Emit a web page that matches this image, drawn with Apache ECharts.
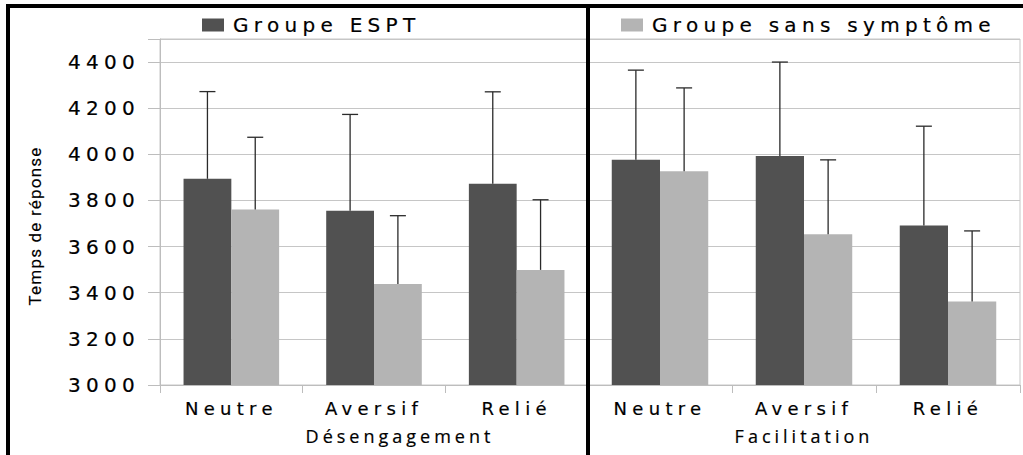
<!DOCTYPE html>
<html>
<head>
<meta charset="utf-8">
<script src="https://cdn.jsdelivr.net/npm/echarts@6/dist/echarts.min.js"></script>
<style>
html,body{margin:0;padding:0;background:#fff;}
#chart{width:1023px;height:455px;}
#chart text[style*="DejaVu"]{letter-spacing:5.3px;stroke:#000;stroke-width:0.2px;}
#chart text[style*="Roboto"]{letter-spacing:1.2px;stroke:#000;stroke-width:0.15px;}
#chart text[style*="Open Sans"]{letter-spacing:4px;stroke:#000;stroke-width:0.2px;}
</style>
</head>
<body>
<div id="chart"></div>
<script>
// ---- data ----
const categories = ['Neutre', 'Aversif', 'Relié'];
const panelNames = ['Désengagement', 'Facilitation'];
const seriesNames = ['Groupe ESPT', 'Groupe sans symptôme'];
const yTicks = [3000, 3200, 3400, 3600, 3800, 4000, 4200, 4400];

// Désengagement panel
const esptDes = [3894, 3755, 3873];
const esptDesErr = [378, 418, 398];
const sansDes = [3761, 3438, 3499];
const sansDesErr = [313, 296, 304];

// Facilitation panel
const esptFac = [3977, 3993, 3692];
const esptFacErr = [388, 407, 430];
const sansFac = [3927, 3654, 3362];
const sansFacErr = [361, 322, 306];

// ---- styles ----
const DARK = '#515151';
const LIGHT = '#b4b4b4';
const GRID = '#c6c6c6';
const CAT_GAP = 0.33;
const TICK_FONT = 'DejaVu Sans';

function errData(vals, errs) {
  return vals.map((v, i) => [i, v, v + errs[i]]);
}

function errRender(sign) {
  return function (params, api) {
    const c = api.value(0);
    const base = api.coord([c, api.value(1)]);
    const top = api.coord([c, api.value(2)]);
    const band = api.size([1, 0])[0];
    const bw = band * (1 - CAT_GAP) / 2;
    const x = base[0] + sign * bw / 2;
    const st = { stroke: '#2a2a2a', lineWidth: 1.3 };
    return {
      type: 'group',
      children: [
        { type: 'line', shape: { x1: x, y1: base[1], x2: x, y2: top[1] }, style: st },
        { type: 'line', shape: { x1: x - 8, y1: top[1], x2: x + 8, y2: top[1] }, style: st }
      ]
    };
  };
}

function xAxisFor(gridIndex, name, pad) {
  return {
    type: 'category',
    gridIndex: gridIndex,
    data: categories,
    name: name,
    nameLocation: 'middle',
    nameGap: 42,
    nameTextStyle: { fontFamily: 'Open Sans', fontSize: 18, color: '#000', padding: pad },
    axisLine: { lineStyle: { color: '#bdbdbd', width: 1 } },
    axisTick: { show: true, length: 8, interval: 0, lineStyle: { color: '#bdbdbd' } },
    axisLabel: { fontFamily: TICK_FONT, fontSize: 18, color: '#000', margin: 14, interval: 0 }
  };
}

function yAxisFor(gridIndex, showLabels) {
  return {
    type: 'value',
    gridIndex: gridIndex,
    min: 3000,
    max: 4500,
    interval: 200,
    name: showLabels ? 'Temps de réponse' : '',
    nameLocation: 'middle',
    nameRotate: 90,
    nameGap: 117,
    nameTextStyle: { fontFamily: 'Roboto', fontSize: 17, color: '#000', padding: [0, 28, 0, 0] },
    axisLine: { show: showLabels, lineStyle: { color: '#bdbdbd' } },
    axisTick: { show: showLabels, length: 12, lineStyle: { color: '#bdbdbd' } },
    axisLabel: {
      show: showLabels,
      fontFamily: TICK_FONT,
      fontSize: 20,
      color: '#000',
      margin: 20,
      formatter: v => (yTicks.indexOf(v) >= 0 ? String(v) : '')
    },
    splitLine: { show: true, lineStyle: { color: GRID, width: 1 } }
  };
}

function barSeries(name, data, gi, color) {
  return {
    name: name,
    type: 'bar',
    xAxisIndex: gi,
    yAxisIndex: gi,
    data: data,
    barGap: '0%',
    barCategoryGap: (CAT_GAP * 100) + '%',
    itemStyle: { color: color },
    z: 2
  };
}

function errSeries(id, vals, errs, gi, sign) {
  return {
    id: id,
    name: id,
    type: 'custom',
    xAxisIndex: gi,
    yAxisIndex: gi,
    data: errData(vals, errs),
    encode: { x: 0, y: [1, 2] },
    renderItem: errRender(sign),
    z: 5,
    silent: true
  };
}

const chart = echarts.init(document.getElementById('chart'), null, { renderer: 'svg' });

chart.setOption({
  animation: false,
  backgroundColor: '#fff',
  legend: [
    {
      data: [seriesNames[0]],
      left: 197,
      top: 10,
      icon: 'rect',
      itemWidth: 22,
      itemHeight: 13,
      selectedMode: false,
      textStyle: { fontFamily: TICK_FONT, fontSize: 20, color: '#000', padding: [0, 0, 0, 4] }
    },
    {
      data: [seriesNames[1]],
      left: 616,
      top: 10,
      icon: 'rect',
      itemWidth: 22,
      itemHeight: 13,
      selectedMode: false,
      textStyle: { fontFamily: TICK_FONT, fontSize: 20, color: '#000', padding: [0, 0, 0, 4] }
    }
  ],
  grid: [
    { left: 160, right: 435, top: 39, bottom: 70, show: true, borderColor: GRID, borderWidth: 1 },
    { left: 588, right: 3, top: 39, bottom: 70, show: true, borderColor: GRID, borderWidth: 1 }
  ],
  xAxis: [xAxisFor(0, panelNames[0], [0, 0, 0, 52]), xAxisFor(1, panelNames[1], [0, 0, 0, 0])],
  yAxis: [yAxisFor(0, true), yAxisFor(1, false)],
  series: [
    barSeries(seriesNames[0], esptDes, 0, DARK),
    barSeries(seriesNames[1], sansDes, 0, LIGHT),
    barSeries(seriesNames[0], esptFac, 1, DARK),
    barSeries(seriesNames[1], sansFac, 1, LIGHT),
    errSeries('errEsptDes', esptDes, esptDesErr, 0, -1),
    errSeries('errSansDes', sansDes, sansDesErr, 0, 1),
    errSeries('errEsptFac', esptFac, esptFacErr, 1, -1),
    errSeries('errSansFac', sansFac, sansFacErr, 1, 1)
  ],
  graphic: [
    {
      type: 'rect',
      shape: { x: 8, y: 6, width: 1040, height: 480 },
      style: { fill: 'none', stroke: '#000', lineWidth: 4 },
      z: 100,
      silent: true
    },
    {
      type: 'line',
      shape: { x1: 588, y1: 6, x2: 588, y2: 460 },
      style: { stroke: '#000', lineWidth: 4 },
      z: 100,
      silent: true
    }
  ]
});
</script>
</body>
</html>
